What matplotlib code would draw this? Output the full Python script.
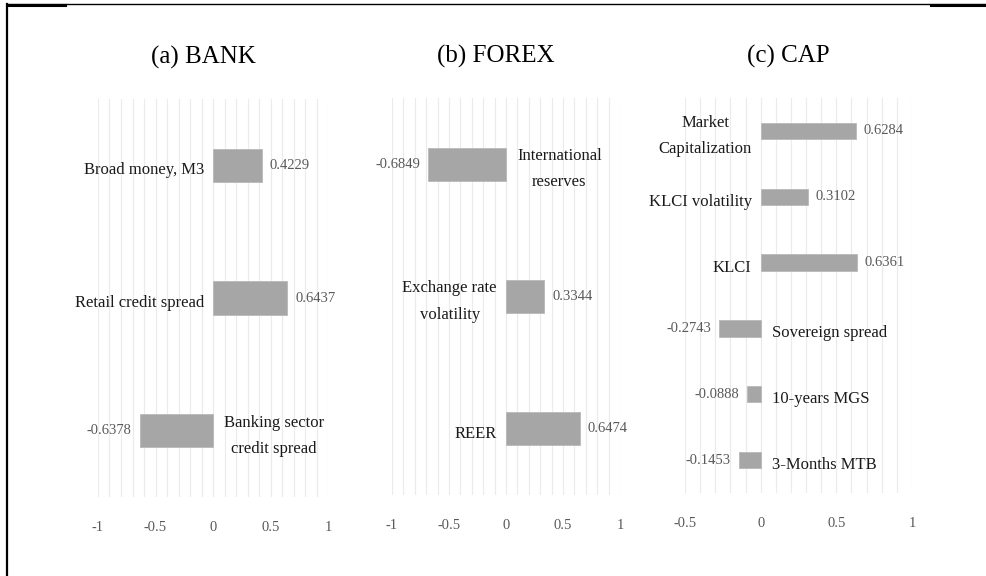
import numpy as np
import matplotlib.pyplot as plt
from matplotlib.lines import Line2D
from matplotlib.ticker import MultipleLocator

plt.rcParams['font.family'] = ['Liberation Serif', 'DejaVu Serif']

# данные по панелям
bank_labels = ['Broad money, M3', 'Retail credit spread', 'Banking sector\ncredit spread']
bank_values = [0.4229, 0.6437, -0.6378]
bank_ticks = [-1, -0.5, 0, 0.5, 1]
bank_ticklabels = ['-1', '-0.5', '0', '0.5', '1']

forex_labels = ['International\nreserves', 'Exchange rate\nvolatility', 'REER']
forex_values = [-0.6849, 0.3344, 0.6474]
forex_ticks = [-1, -0.5, 0, 0.5, 1]
forex_ticklabels = ['-1', '-0.5', '0', '0.5', '1']

cap_labels = ['Market\nCapitalization', 'KLCI volatility', 'KLCI',
              'Sovereign spread', '10-years MGS', '3-Months MTB']
cap_values = [0.6284, 0.3102, 0.6361, -0.2743, -0.0888, -0.1453]
cap_ticks = [-0.5, 0, 0.5, 1]
cap_ticklabels = ['-0.5', '0', '0.5', '1']

titles = ['(a) BANK', '(b) FOREX', '(c) CAP']

W, H = 986, 576
fig = plt.figure(figsize=(W / 100, H / 100), dpi=100)

# положение осей в пикселях: (x0, x1, y_top, y_bottom)
boxes = [(98, 328, 99, 497), (392, 620, 98, 495), (685, 912, 98, 493)]
panels = [(bank_labels, bank_values, bank_ticks, bank_ticklabels),
          (forex_labels, forex_values, forex_ticks, forex_ticklabels),
          (cap_labels, cap_values, cap_ticks, cap_ticklabels)]

bar_color = '#A6A6A6'
gray_text = '#595959'

for (x0, x1, yt, yb), (labels, values, ticks, ticklabels), title in zip(boxes, panels, titles):
    ax = fig.add_axes([x0 / W, 1 - yb / H, (x1 - x0) / W, (yb - yt) / H])
    n = len(values)
    y = np.arange(n)
    ax.barh(y, values, height=0.25, color=bar_color, edgecolor='#B8B8B8', linewidth=0.6, zorder=3)
    ax.set_ylim(n - 0.5, -0.5)
    ax.set_xlim(ticks[0], ticks[-1])
    ax.set_xticks(ticks)
    ax.set_xticklabels(ticklabels)
    ax.xaxis.set_minor_locator(MultipleLocator(0.1))
    ax.grid(True, axis='x', which='both', color='#EBEBEB', linewidth=0.8, zorder=0)
    ax.set_yticks([])
    ax.tick_params(axis='x', which='both', length=0, pad=17, labelsize=10.5, labelcolor=gray_text)
    for s in ax.spines.values():
        s.set_visible(False)

    for yi, v, lab in zip(y, values, labels):
        # подпись значения у конца столбца
        ax.annotate(f'{v:.4f}', xy=(v, yi), xytext=(8 if v > 0 else -8, 0),
                    textcoords='offset pixels', ha='left' if v > 0 else 'right',
                    va='center', fontsize=10.5, color=gray_text)
        # название показателя с другой стороны от нуля
        ax.annotate(lab, xy=(0, yi), xytext=(-9 if v > 0 else 11, -5),
                    textcoords='offset pixels', ha='right' if v > 0 else 'left',
                    va='center', multialignment='center', fontsize=12,
                    color='#1a1a1a', linespacing=1.85)

    ax.annotate(title, xy=(0.5, 1), xycoords='axes fraction', xytext=(-10, 42),
                textcoords='offset pixels', ha='center', va='center', fontsize=18)

# рамка страницы
fig.add_artist(Line2D([7 / W, 7 / W], [1 - 4 / H, 0], color='black', lw=1.6))
fig.add_artist(Line2D([7 / W, 1], [1 - 4 / H, 1 - 4 / H], color='black', lw=1.0))
fig.add_artist(Line2D([7 / W, 65 / W], [1 - 5 / H, 1 - 5 / H], color='black', lw=2.2))
fig.add_artist(Line2D([931 / W, 1], [1 - 5 / H, 1 - 5 / H], color='black', lw=2.2))

fig.savefig('out.png', dpi=100)
